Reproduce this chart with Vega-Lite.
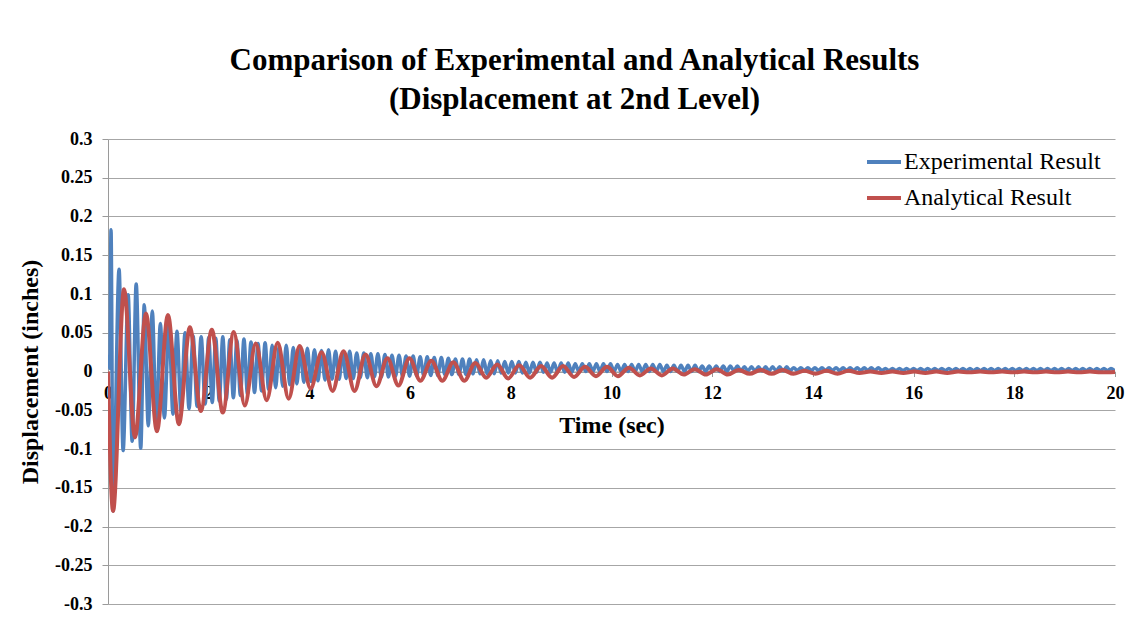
{
  "$schema": "https://vega.github.io/schema/vega-lite/v6.json",
  "width": 1007,
  "height": 465,
  "autosize": {"type": "none"},
  "padding": {"left": 108, "top": 139, "right": 33, "bottom": 35},
  "background": "white",
  "title": {
    "text": ["Comparison of Experimental and Analytical Results", "(Displacement at 2nd Level)"],
    "font": "Liberation Serif",
    "fontSize": 31,
    "fontWeight": "bold",
    "color": "#000000",
    "lineHeight": 39,
    "anchor": "middle",
    "dx": -37,
    "offset": 14
  },
  "config": {
    "view": {"stroke": null},
    "axis": {
      "labelFont": "Liberation Serif",
      "labelFontWeight": "bold",
      "labelColor": "#000000",
      "titleFont": "Liberation Serif",
      "titleFontWeight": "bold",
      "titleColor": "#000000",
      "domainColor": "#9a9a9a",
      "tickColor": "#9a9a9a",
      "gridColor": "#a6a6a6",
      "gridWidth": 1
    },
    "legend": {
      "labelFont": "Liberation Serif",
      "labelFontSize": 24,
      "labelLimit": 400
    }
  },
  "encoding": {
    "x": {
      "field": "t",
      "type": "quantitative",
      "scale": {"domain": [0, 20], "nice": false},
      "axis": {
        "orient": "bottom",
        "offset": -232.5,
        "values": [0, 2, 4, 6, 8, 10, 12, 14, 16, 18, 20],
        "grid": false,
        "tickSize": 5,
        "labelPadding": 8,
        "labelFontSize": 18,
        "labelFlush": false,
        "title": "Time (sec)",
        "titleFontSize": 24,
        "titlePadding": 11
      }
    },
    "y": {
      "field": "d",
      "type": "quantitative",
      "scale": {"domain": [-0.3, 0.3], "nice": false},
      "axis": {
        "values": [-0.3, -0.25, -0.2, -0.15, -0.1, -0.05, 0, 0.05, 0.1, 0.15, 0.2, 0.25, 0.3],
        "labelExpr": "toString(datum.value)",
        "grid": true,
        "tickSize": 6,
        "labelPadding": 10,
        "labelFontSize": 18,
        "title": "Displacement (inches)",
        "titleFontSize": 24,
        "titlePadding": 12
      }
    }
  },
  "layer": [
    {
      "data": {
        "values": [
          {"t": 0, "d": 0.005}, {"t": 0.02, "d": 0.02}, {"t": 0.035, "d": 0.004}, {"t": 0.06, "d": 0.183},
          {"t": 0.1, "d": -0.18}, {"t": 0.22, "d": 0.132}, {"t": 0.3, "d": -0.102}, {"t": 0.4, "d": 0.099},
          {"t": 0.48, "d": -0.09}, {"t": 0.56, "d": 0.113}, {"t": 0.65, "d": -0.099}, {"t": 0.72, "d": 0.086},
          {"t": 0.8, "d": -0.07}, {"t": 0.88, "d": 0.078}, {"t": 0.96, "d": -0.07}, {"t": 1.04, "d": 0.062},
          {"t": 1.12, "d": -0.06}, {"t": 1.21, "d": 0.062}, {"t": 1.29, "d": -0.055}, {"t": 1.37, "d": 0.052},
          {"t": 1.45, "d": -0.052}, {"t": 1.53, "d": 0.05}, {"t": 1.61, "d": -0.048}, {"t": 1.69, "d": 0.046},
          {"t": 1.77, "d": -0.045}, {"t": 1.85, "d": 0.045}, {"t": 1.93, "d": -0.042},
          {"t": 2.00, "d": 0.044}, {"t": 2.07, "d": -0.040}, {"t": 2.14, "d": 0.043}, {"t": 2.21, "d": -0.038},
          {"t": 2.28, "d": 0.045}, {"t": 2.35, "d": -0.036}, {"t": 2.42, "d": 0.041}, {"t": 2.49, "d": -0.034},
          {"t": 2.56, "d": 0.040}, {"t": 2.63, "d": -0.031}, {"t": 2.70, "d": 0.042}, {"t": 2.77, "d": -0.029},
          {"t": 2.84, "d": 0.038}, {"t": 2.91, "d": -0.027}, {"t": 2.98, "d": 0.036}, {"t": 3.05, "d": -0.025},
          {"t": 3.12, "d": 0.037}, {"t": 3.19, "d": -0.023}, {"t": 3.26, "d": 0.034}, {"t": 3.33, "d": -0.021},
          {"t": 3.40, "d": 0.033}, {"t": 3.47, "d": -0.019}, {"t": 3.54, "d": 0.034}, {"t": 3.61, "d": -0.017},
          {"t": 3.68, "d": 0.031}, {"t": 3.75, "d": -0.016}, {"t": 3.82, "d": 0.029}, {"t": 3.89, "d": -0.014},
          {"t": 3.96, "d": 0.030}, {"t": 4.03, "d": -0.013}, {"t": 4.10, "d": 0.028}, {"t": 4.17, "d": -0.012},
          {"t": 4.24, "d": 0.027}, {"t": 4.31, "d": -0.011}, {"t": 4.38, "d": 0.028}, {"t": 4.45, "d": -0.010},
          {"t": 4.52, "d": 0.026}, {"t": 4.59, "d": -0.010}, {"t": 4.66, "d": 0.025}, {"t": 4.73, "d": -0.009},
          {"t": 4.80, "d": 0.026}, {"t": 4.87, "d": -0.009}, {"t": 4.94, "d": 0.024}, {"t": 5.01, "d": -0.008},
          {"t": 5.08, "d": 0.024}, {"t": 5.15, "d": -0.008}, {"t": 5.22, "d": 0.023}, {"t": 5.29, "d": -0.007},
          {"t": 5.36, "d": 0.023}, {"t": 5.43, "d": -0.007}, {"t": 5.50, "d": 0.022}, {"t": 5.57, "d": -0.007},
          {"t": 5.64, "d": 0.021}, {"t": 5.71, "d": -0.006}, {"t": 5.78, "d": 0.021}, {"t": 5.85, "d": -0.006},
          {"t": 5.92, "d": 0.020}, {"t": 5.99, "d": -0.006}, {"t": 6.06, "d": 0.020}, {"t": 6.13, "d": -0.005},
          {"t": 6.20, "d": 0.019}, {"t": 6.27, "d": -0.005}, {"t": 6.34, "d": 0.019}, {"t": 6.41, "d": -0.005},
          {"t": 6.48, "d": 0.018}, {"t": 6.55, "d": -0.005}, {"t": 6.62, "d": 0.018}, {"t": 6.69, "d": -0.004},
          {"t": 6.76, "d": 0.017}, {"t": 6.83, "d": -0.004}, {"t": 6.90, "d": 0.016}, {"t": 6.97, "d": -0.004},
          {"t": 7.04, "d": 0.016}, {"t": 7.11, "d": -0.004}, {"t": 7.18, "d": 0.016}, {"t": 7.25, "d": -0.003},
          {"t": 7.32, "d": 0.015}, {"t": 7.39, "d": -0.003}, {"t": 7.46, "d": 0.015}, {"t": 7.53, "d": -0.003},
          {"t": 7.60, "d": 0.014}, {"t": 7.67, "d": -0.003}, {"t": 7.74, "d": 0.014}, {"t": 7.81, "d": -0.002},
          {"t": 7.88, "d": 0.013}, {"t": 7.95, "d": -0.002}, {"t": 8.02, "d": 0.013}, {"t": 8.09, "d": -0.002},
          {"t": 8.16, "d": 0.013}, {"t": 8.23, "d": -0.002}, {"t": 8.30, "d": 0.012}, {"t": 8.37, "d": -0.002},
          {"t": 8.44, "d": 0.012}, {"t": 8.51, "d": -0.001}, {"t": 8.58, "d": 0.012}, {"t": 8.65, "d": -0.001},
          {"t": 8.72, "d": 0.011}, {"t": 8.79, "d": -0.001}, {"t": 8.86, "d": 0.011}, {"t": 8.93, "d": -0.001},
          {"t": 9.00, "d": 0.011}, {"t": 9.07, "d": -0.001}, {"t": 9.14, "d": 0.011}, {"t": 9.21, "d": -0.001},
          {"t": 9.28, "d": 0.010}, {"t": 9.35, "d": 0.000}, {"t": 9.42, "d": 0.010}, {"t": 9.49, "d": 0.000},
          {"t": 9.56, "d": 0.010}, {"t": 9.63, "d": 0.000}, {"t": 9.70, "d": 0.010}, {"t": 9.77, "d": 0.000},
          {"t": 9.84, "d": 0.010}, {"t": 9.91, "d": 0.000}, {"t": 9.98, "d": 0.010}, {"t": 10.05, "d": 0.000},
          {"t": 10.12, "d": 0.009}, {"t": 10.19, "d": 0.000}, {"t": 10.26, "d": 0.009}, {"t": 10.33, "d": 0.000},
          {"t": 10.40, "d": 0.009}, {"t": 10.47, "d": 0.000}, {"t": 10.54, "d": 0.009}, {"t": 10.61, "d": 0.000},
          {"t": 10.68, "d": 0.009}, {"t": 10.75, "d": 0.000}, {"t": 10.82, "d": 0.009}, {"t": 10.89, "d": 0.000},
          {"t": 10.96, "d": 0.009}, {"t": 11.03, "d": 0.000}, {"t": 11.10, "d": 0.008}, {"t": 11.17, "d": 0.000},
          {"t": 11.24, "d": 0.008}, {"t": 11.31, "d": 0.000}, {"t": 11.38, "d": 0.008}, {"t": 11.45, "d": 0.000},
          {"t": 11.52, "d": 0.008}, {"t": 11.59, "d": 0.000}, {"t": 11.66, "d": 0.008}, {"t": 11.73, "d": 0.000},
          {"t": 11.80, "d": 0.007}, {"t": 11.87, "d": 0.000}, {"t": 11.94, "d": 0.007}, {"t": 12.01, "d": 0.000},
          {"t": 12.08, "d": 0.007}, {"t": 12.15, "d": 0.000}, {"t": 12.22, "d": 0.007}, {"t": 12.29, "d": 0.000},
          {"t": 12.36, "d": 0.007}, {"t": 12.43, "d": 0.001}, {"t": 12.50, "d": 0.007}, {"t": 12.57, "d": 0.001},
          {"t": 12.64, "d": 0.006}, {"t": 12.71, "d": 0.001}, {"t": 12.78, "d": 0.006}, {"t": 12.85, "d": 0.001},
          {"t": 12.92, "d": 0.006}, {"t": 12.99, "d": 0.001}, {"t": 13.06, "d": 0.006}, {"t": 13.13, "d": 0.001},
          {"t": 13.20, "d": 0.006}, {"t": 13.27, "d": 0.001}, {"t": 13.34, "d": 0.006}, {"t": 13.41, "d": 0.001},
          {"t": 13.48, "d": 0.006}, {"t": 13.55, "d": 0.001}, {"t": 13.62, "d": 0.005}, {"t": 13.69, "d": 0.001},
          {"t": 13.76, "d": 0.005}, {"t": 13.83, "d": 0.001}, {"t": 13.90, "d": 0.005}, {"t": 13.97, "d": 0.001},
          {"t": 14.04, "d": 0.005}, {"t": 14.11, "d": 0.001}, {"t": 14.18, "d": 0.005}, {"t": 14.25, "d": 0.001},
          {"t": 14.32, "d": 0.005}, {"t": 14.39, "d": 0.001}, {"t": 14.46, "d": 0.005}, {"t": 14.53, "d": 0.001},
          {"t": 14.60, "d": 0.005}, {"t": 14.67, "d": 0.001}, {"t": 14.74, "d": 0.005}, {"t": 14.81, "d": 0.001},
          {"t": 14.88, "d": 0.005}, {"t": 14.95, "d": 0.001}, {"t": 15.02, "d": 0.005}, {"t": 15.09, "d": 0.001},
          {"t": 15.16, "d": 0.005}, {"t": 15.23, "d": 0.001}, {"t": 15.30, "d": 0.005}, {"t": 15.37, "d": 0.001},
          {"t": 15.44, "d": 0.004}, {"t": 15.51, "d": 0.001}, {"t": 15.58, "d": 0.004}, {"t": 15.65, "d": 0.001},
          {"t": 15.72, "d": 0.004}, {"t": 15.79, "d": 0.001}, {"t": 15.86, "d": 0.004}, {"t": 15.93, "d": 0.001},
          {"t": 16.00, "d": 0.004}, {"t": 16.07, "d": 0.001}, {"t": 16.14, "d": 0.004}, {"t": 16.21, "d": 0.001},
          {"t": 16.28, "d": 0.004}, {"t": 16.35, "d": 0.001}, {"t": 16.42, "d": 0.004}, {"t": 16.49, "d": 0.001},
          {"t": 16.56, "d": 0.004}, {"t": 16.63, "d": 0.001}, {"t": 16.70, "d": 0.004}, {"t": 16.77, "d": 0.001},
          {"t": 16.84, "d": 0.004}, {"t": 16.91, "d": 0.001}, {"t": 16.98, "d": 0.004}, {"t": 17.05, "d": 0.001},
          {"t": 17.12, "d": 0.004}, {"t": 17.19, "d": 0.001}, {"t": 17.26, "d": 0.004}, {"t": 17.33, "d": 0.001},
          {"t": 17.40, "d": 0.004}, {"t": 17.47, "d": 0.001}, {"t": 17.54, "d": 0.004}, {"t": 17.61, "d": 0.001},
          {"t": 17.68, "d": 0.004}, {"t": 17.75, "d": 0.001}, {"t": 17.82, "d": 0.004}, {"t": 17.89, "d": 0.001},
          {"t": 17.96, "d": 0.004}, {"t": 18.03, "d": 0.001}, {"t": 18.10, "d": 0.004}, {"t": 18.17, "d": 0.001},
          {"t": 18.24, "d": 0.004}, {"t": 18.31, "d": 0.001}, {"t": 18.38, "d": 0.004}, {"t": 18.45, "d": 0.001},
          {"t": 18.52, "d": 0.004}, {"t": 18.59, "d": 0.001}, {"t": 18.66, "d": 0.004}, {"t": 18.73, "d": 0.001},
          {"t": 18.80, "d": 0.004}, {"t": 18.87, "d": 0.001}, {"t": 18.94, "d": 0.004}, {"t": 19.01, "d": 0.001},
          {"t": 19.08, "d": 0.004}, {"t": 19.15, "d": 0.001}, {"t": 19.22, "d": 0.004}, {"t": 19.29, "d": 0.001},
          {"t": 19.36, "d": 0.004}, {"t": 19.43, "d": 0.001}, {"t": 19.50, "d": 0.004}, {"t": 19.57, "d": 0.001},
          {"t": 19.64, "d": 0.004}, {"t": 19.71, "d": 0.001}, {"t": 19.78, "d": 0.004}, {"t": 19.85, "d": 0.001},
          {"t": 19.92, "d": 0.004}, {"t": 19.99, "d": 0.001}
        ]
      },
      "mark": {"type": "line", "interpolate": "monotone", "strokeWidth": 3.5, "clip": true},
      "encoding": {
        "color": {
          "datum": "Experimental Result",
          "scale": {"domain": ["Experimental Result", "Analytical Result"], "range": ["#4f81bd", "#c0504d"]},
          "legend": {
            "orient": "none",
            "legendX": 757,
            "legendY": 4,
            "title": null,
            "symbolType": "stroke",
            "symbolSize": 1156,
            "symbolStrokeWidth": 4,
            "labelFont": "Liberation Serif",
            "labelFontSize": 24,
            "labelLimit": 400,
            "labelColor": "#000000",
            "labelOffset": 1,
            "rowPadding": 5,
            "padding": 0
          }
        }
      }
    },
    {
      "data": {
        "values": [
          {"t": 0, "d": 0.0}, {"t": 0.1, "d": -0.18}, {"t": 0.318, "d": 0.106}, {"t": 0.536, "d": -0.085},
          {"t": 0.754, "d": 0.075}, {"t": 0.972, "d": -0.077}, {"t": 1.19, "d": 0.073}, {"t": 1.408, "d": -0.068},
          {"t": 1.626, "d": 0.057}, {"t": 1.844, "d": -0.051}, {"t": 2.062, "d": 0.054}, {"t": 2.28, "d": -0.053},
          {"t": 2.498, "d": 0.051}, {"t": 2.716, "d": -0.044}, {"t": 2.934, "d": 0.036}, {"t": 3.152, "d": -0.037},
          {"t": 3.37, "d": 0.037}, {"t": 3.588, "d": -0.035}, {"t": 3.806, "d": 0.033}, {"t": 4.024, "d": -0.022},
          {"t": 4.242, "d": 0.025}, {"t": 4.46, "d": -0.025}, {"t": 4.678, "d": 0.026}, {"t": 4.896, "d": -0.025},
          {"t": 5.114, "d": 0.022}, {"t": 5.332, "d": -0.019}, {"t": 5.55, "d": 0.017}, {"t": 5.768, "d": -0.018},
          {"t": 5.986, "d": 0.017}, {"t": 6.204, "d": -0.012}, {"t": 6.422, "d": 0.014}, {"t": 6.64, "d": -0.012},
          {"t": 6.858, "d": 0.012}, {"t": 7.076, "d": -0.012}, {"t": 7.294, "d": 0.011}, {"t": 7.512, "d": -0.008},
          {"t": 7.73, "d": 0.009}, {"t": 7.948, "d": -0.009}, {"t": 8.166, "d": 0.008}, {"t": 8.384, "d": -0.008},
          {"t": 8.602, "d": 0.007}, {"t": 8.82, "d": -0.008}, {"t": 9.038, "d": 0.007}, {"t": 9.256, "d": -0.007},
          {"t": 9.474, "d": 0.006}, {"t": 9.692, "d": -0.006}, {"t": 9.91, "d": 0.006}, {"t": 10.128, "d": -0.006},
          {"t": 10.346, "d": 0.005}, {"t": 10.564, "d": -0.005}, {"t": 10.782, "d": 0.004}, {"t": 11.0, "d": -0.005},
          {"t": 11.218, "d": 0.004}, {"t": 11.436, "d": -0.004}, {"t": 11.654, "d": 0.003}, {"t": 11.872, "d": -0.004},
          {"t": 12.09, "d": 0.003}, {"t": 12.308, "d": -0.004}, {"t": 12.526, "d": 0.002}, {"t": 12.744, "d": -0.003},
          {"t": 12.962, "d": 0.002}, {"t": 13.18, "d": -0.003}, {"t": 13.398, "d": 0.002}, {"t": 13.616, "d": -0.003},
          {"t": 13.834, "d": 0.001}, {"t": 14.052, "d": -0.003}, {"t": 14.27, "d": 0.001}, {"t": 14.488, "d": -0.003},
          {"t": 14.706, "d": 0.001}, {"t": 14.924, "d": -0.002}, {"t": 15.142, "d": 0.0}, {"t": 15.36, "d": -0.002},
          {"t": 15.578, "d": 0.0}, {"t": 15.796, "d": -0.002}, {"t": 16.014, "d": 0.0}, {"t": 16.232, "d": -0.002},
          {"t": 16.45, "d": 0.0}, {"t": 16.668, "d": -0.002}, {"t": 16.886, "d": 0.0}, {"t": 17.104, "d": -0.001},
          {"t": 17.322, "d": 0.0}, {"t": 17.54, "d": -0.001}, {"t": 17.758, "d": 0.0}, {"t": 17.976, "d": -0.001},
          {"t": 18.194, "d": 0.0}, {"t": 18.412, "d": -0.001}, {"t": 18.63, "d": 0.0}, {"t": 18.848, "d": -0.001},
          {"t": 19.066, "d": 0.0}, {"t": 19.284, "d": -0.001}, {"t": 19.502, "d": 0.0}, {"t": 19.72, "d": -0.001},
          {"t": 20, "d": -0.0005}
        ]
      },
      "mark": {"type": "line", "interpolate": "monotone", "strokeWidth": 4, "clip": true},
      "encoding": {
        "color": {"datum": "Analytical Result"}
      }
    }
  ]
}
